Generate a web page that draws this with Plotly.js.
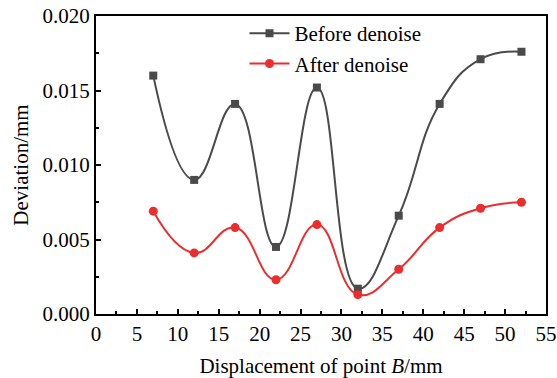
<!DOCTYPE html>
<html><head><meta charset="utf-8">
<script src="https://cdn.plot.ly/plotly-3.0.1.min.js"></script>
<style>body{margin:0;padding:0;background:#fff}#chart{width:557px;height:378px}</style>
</head><body><div id="chart"></div>
<script>
const displacement = [7, 12, 17, 22, 27, 32, 37, 42, 47, 52];
const beforeDenoise = [0.0160, 0.0090, 0.0141, 0.0045, 0.0152, 0.0017, 0.0066, 0.0141, 0.0171, 0.0176];
const afterDenoise  = [0.0069, 0.0041, 0.0058, 0.0023, 0.0060, 0.0013, 0.0030, 0.0058, 0.0071, 0.0075];
const seriesNames = ["Before denoise", "After denoise"];

const font = {family: "Liberation Serif, Times New Roman, serif", color: "#000"};
const fs = 21;
const traces = [
  {x: displacement, y: beforeDenoise, name: seriesNames[0], mode: "lines+markers",
   line: {shape: "spline", smoothing: 1.3, color: "#4a4a4a", width: 2},
   marker: {symbol: "square", size: 8, color: "#4a4a4a"}},
  {x: displacement, y: afterDenoise, name: seriesNames[1], mode: "lines+markers",
   line: {shape: "spline", smoothing: 1.3, color: "#ec2d2d", width: 2},
   marker: {symbol: "circle", size: 9, color: "#ec2d2d"}}
];
const layout = {
  width: 557, height: 378,
  margin: {l: 96, r: 11, t: 16, b: 64},
  paper_bgcolor: "#fff", plot_bgcolor: "#fff",
  font: Object.assign({size: fs}, font),
  showlegend: true,
  legend: {x: 0.33, y: 1.01, xanchor: "left", yanchor: "top", bgcolor: "rgba(0,0,0,0)",
           font: Object.assign({size: fs}, font), tracegroupgap: 0, itemwidth: 40},
  xaxis: {range: [0, 55], dtick: 5, tick0: 0, showgrid: false, zeroline: false,
          showline: true, linecolor: "#000", linewidth: 2, mirror: true,
          ticks: "inside", ticklen: 5, tickwidth: 2, tickcolor: "#000",
          minor: {ticks: "inside", dtick: 2.5, ticklen: 3, tickwidth: 2, tickcolor: "#000", showgrid: false},
          tickfont: Object.assign({size: fs}, font),
          title: {text: "Displacement of point <i>B</i>/mm", font: Object.assign({size: fs}, font), standoff: 14}},
  yaxis: {range: [0, 0.020], dtick: 0.005, tick0: 0, tickformat: ".3f", showgrid: false, zeroline: false,
          showline: true, linecolor: "#000", linewidth: 2, mirror: true,
          ticks: "inside", ticklen: 5, tickwidth: 2, tickcolor: "#000",
          minor: {ticks: "inside", dtick: 0.0025, ticklen: 3, tickwidth: 2, tickcolor: "#000", showgrid: false},
          tickfont: Object.assign({size: fs}, font),
          title: {text: "Deviation/mm", font: Object.assign({size: fs}, font), standoff: 8}}
};
Plotly.newPlot("chart", traces, layout, {displayModeBar: false, staticPlot: true});
</script></body></html>
